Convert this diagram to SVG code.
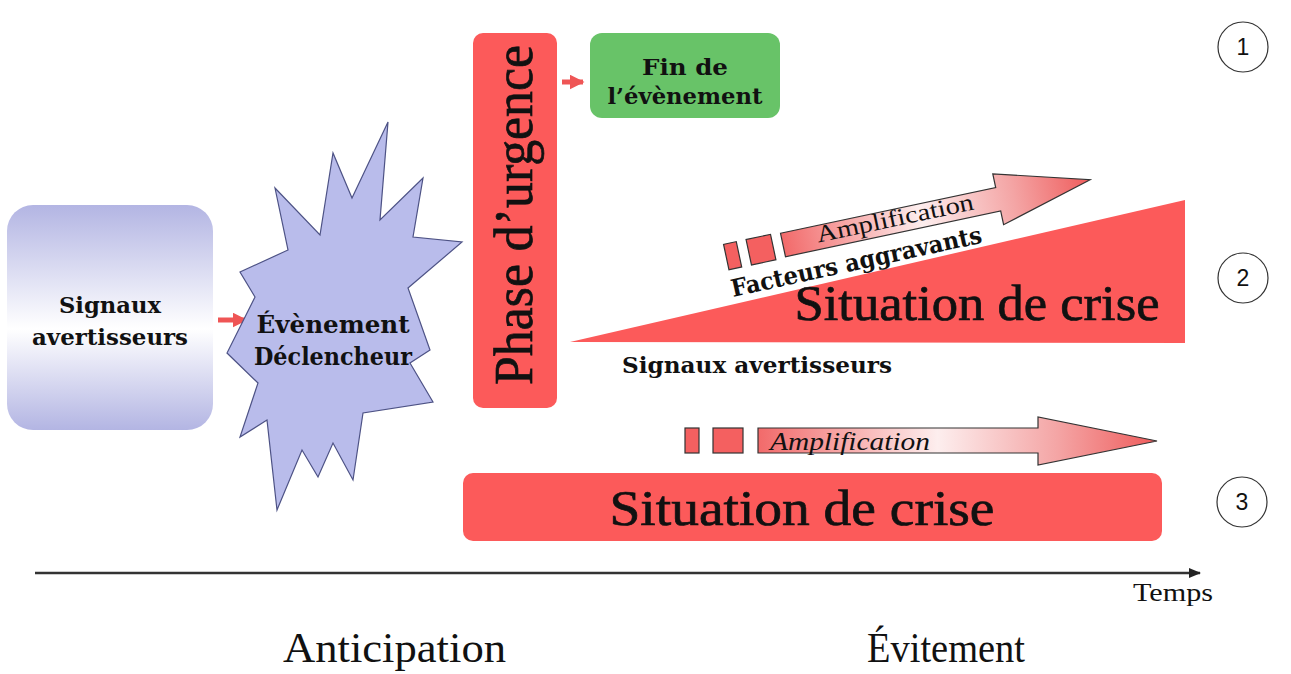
<svg xmlns="http://www.w3.org/2000/svg" width="1291" height="674" viewBox="0 0 1291 674">
  <defs>
    <linearGradient id="lav" x1="0" y1="0" x2="0" y2="1">
      <stop offset="0" stop-color="#b3b5e3"/>
      <stop offset="0.55" stop-color="#ffffff"/>
      <stop offset="1" stop-color="#b3b5e3"/>
    </linearGradient>
    <linearGradient id="amp" x1="0" y1="0" x2="1" y2="0">
      <stop offset="0" stop-color="#f26a6a"/>
      <stop offset="0.45" stop-color="#fdeeee"/>
      <stop offset="0.75" stop-color="#f4a5a5"/>
      <stop offset="1" stop-color="#ef5c5c"/>
    </linearGradient>
    <marker id="redhead" viewBox="0 0 10 10" refX="9" refY="5" markerWidth="3" markerHeight="3" orient="auto">
      <path d="M0,0 L10,5 L0,10 Z" fill="#ef5555"/>
    </marker>
    <marker id="axhead" viewBox="0 0 10 10" refX="9" refY="5" markerWidth="5" markerHeight="5" orient="auto">
      <path d="M0,1 L10,5 L0,9 Z" fill="#222"/>
    </marker>
    <style>
      .bold { font-family: "DejaVu Serif", "Liberation Serif", serif; font-weight: bold; fill: #111; }
      .ser { font-family: "Liberation Serif", "DejaVu Serif", serif; fill: #111; }
      .heavy { stroke: #111; stroke-width: 0.7; }
      .red { fill: #fc5a5a; }
      .sq { fill: #f46060; stroke: #333; stroke-width: 1.2; }
      .num { font-family: "Liberation Sans", Arial, sans-serif; font-size: 23px; fill: #111; text-anchor: middle; }
      .circ { fill: #fff; stroke: #333; stroke-width: 1.2; }
    </style>
  </defs>
  <rect width="1291" height="674" fill="#ffffff"/>

  <g id="connectors">
    <line x1="218" y1="320" x2="246" y2="320" stroke="#ef5555" stroke-width="5" marker-end="url(#redhead)"/>
    <line x1="562" y1="82" x2="583" y2="82" stroke="#ef5555" stroke-width="5" marker-end="url(#redhead)"/>
    <line x1="35" y1="573" x2="1200" y2="573" stroke="#333" stroke-width="2.5" marker-end="url(#axhead)"/>
  </g>

  <g id="signaux">
    <rect x="7" y="205" width="206" height="225" rx="26" fill="url(#lav)"/>
    <text class="bold" font-size="23" text-anchor="middle" x="110" y="313" textLength="102" lengthAdjust="spacingAndGlyphs">Signaux</text>
    <text class="bold" font-size="23" text-anchor="middle" x="110" y="345" textLength="156" lengthAdjust="spacingAndGlyphs">avertisseurs</text>
  </g>

  <g id="evenement">
    <polygon points="388,122 352,198 333,153 320,235 275,188 288,250 240,272 255,297 227,353 258,383 240,437 267,420 277,510 302,450 318,477 333,443 353,480 363,413 433,402 410,363 430,350 408,288 462,242 413,237 423,178 380,220" fill="#b9bceb" stroke="#4d5285" stroke-width="1.2" stroke-linejoin="miter"/>
    <text class="bold" font-size="24" text-anchor="middle" x="333" y="333" textLength="153" lengthAdjust="spacingAndGlyphs">Évènement</text>
    <text class="bold" font-size="24" text-anchor="middle" x="333" y="365" textLength="158" lengthAdjust="spacingAndGlyphs">Déclencheur</text>
  </g>

  <g id="phase">
    <rect x="473" y="33" width="84" height="375" rx="10" class="red"/>
    <text class="ser heavy" font-size="54" text-anchor="middle" x="515" y="232" transform="rotate(-90 515 215)" textLength="340" lengthAdjust="spacingAndGlyphs">Phase d’urgence</text>
  </g>

  <g id="fin">
    <rect x="590" y="33" width="190" height="85" rx="12" fill="#68c368"/>
    <text class="bold" font-size="22" text-anchor="middle" x="685" y="75" textLength="86" lengthAdjust="spacingAndGlyphs">Fin de</text>
    <text class="bold" font-size="22" text-anchor="middle" x="685" y="104" textLength="155" lengthAdjust="spacingAndGlyphs">l’évènement</text>
  </g>

  <g id="crise2">
    <polygon points="570,342 1185,200 1185,343" class="red"/>
    <text class="ser heavy" font-size="50" text-anchor="middle" x="977" y="320" textLength="365" lengthAdjust="spacingAndGlyphs">Situation de crise</text>
  </g>

  <g id="amplification-haut" transform="translate(783,245) rotate(-12)">
    <rect x="-58" y="-13" width="13" height="26" class="sq"/>
    <rect x="-35" y="-13" width="25" height="26" class="sq"/>
    <path d="M0,-12 L220,-12 L220,-26 L314,0 L220,26 L220,12 L0,12 Z" fill="url(#amp)" stroke="#333" stroke-width="1.2"/>
    <text class="ser" font-size="24" x="35" y="5" textLength="160" lengthAdjust="spacingAndGlyphs">Amplification</text>
  </g>

  <g id="facteurs">
    <text class="bold" font-size="24" x="0" y="0" transform="translate(733,297) rotate(-12.3)" textLength="256" lengthAdjust="spacingAndGlyphs">Facteurs aggravants</text>
  </g>

  <g id="signaux-2">
    <text class="bold" font-size="23" x="622" y="373" textLength="270" lengthAdjust="spacingAndGlyphs">Signaux avertisseurs</text>
  </g>

  <g id="amplification-bas">
    <rect x="685" y="428" width="14" height="25" class="sq"/>
    <rect x="713" y="428" width="30" height="25" class="sq"/>
    <path d="M758,428 L1038,428 L1038,417 L1157,441 L1038,465 L1038,453 L758,453 Z" fill="url(#amp)" stroke="#333" stroke-width="1.2"/>
    <text class="ser" font-size="25" font-style="italic" x="770" y="450" textLength="160" lengthAdjust="spacingAndGlyphs">Amplification</text>
  </g>

  <g id="crise3">
    <rect x="463" y="473" width="699" height="68" rx="10" class="red"/>
    <text class="ser heavy" font-size="50" text-anchor="middle" x="802" y="525" textLength="385" lengthAdjust="spacingAndGlyphs">Situation de crise</text>
  </g>

  <g id="n1"><circle cx="1243" cy="47" r="25" class="circ"/><text class="num" x="1243" y="55">1</text></g>
  <g id="n2"><circle cx="1243" cy="278" r="25" class="circ"/><text class="num" x="1243" y="286">2</text></g>
  <g id="n3"><circle cx="1242" cy="502" r="25" class="circ"/><text class="num" x="1242" y="510">3</text></g>

  <g id="labels">
    <text class="ser" font-size="25" x="1133" y="601" textLength="80" lengthAdjust="spacingAndGlyphs">Temps</text>
    <text class="ser" font-size="42" x="283" y="662" textLength="223" lengthAdjust="spacingAndGlyphs">Anticipation</text>
    <text class="ser" font-size="42" x="867" y="662" textLength="158" lengthAdjust="spacingAndGlyphs">Évitement</text>
  </g>
</svg>
